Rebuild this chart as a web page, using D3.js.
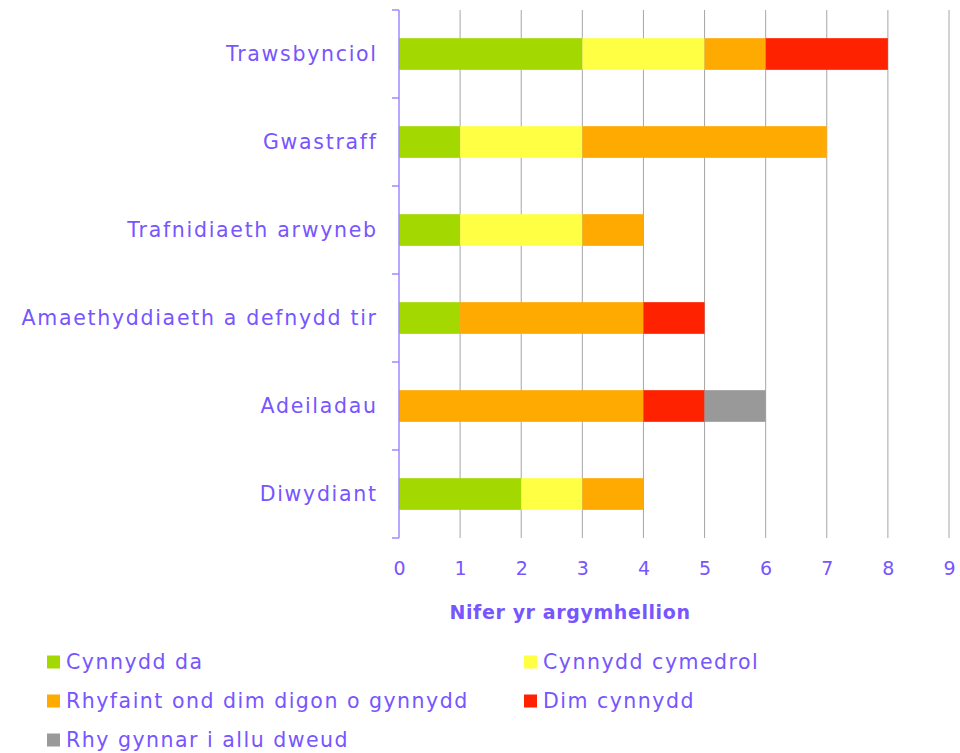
<!DOCTYPE html>
<html lang="cy">
  <head>
    <meta charset="UTF-8" />
    <title>Nifer yr argymhellion</title>
    <script src="https://d3js.org/d3.v7.min.js"></script>
    <style>
      body { margin: 0; background: #fff; }
      svg text { font-family: "DejaVu Sans", sans-serif; fill: #7755ff; }
    </style>
  </head>
  <body>
    <div id="chart"></div>
    <script>
      const categories = [
        "Trawsbynciol",
        "Gwastraff",
        "Trafnidiaeth arwyneb",
        "Amaethyddiaeth a defnydd tir",
        "Adeiladau",
        "Diwydiant"
      ];
      const seriesNames = [
        "Cynnydd da",
        "Cynnydd cymedrol",
        "Rhyfaint ond dim digon o gynnydd",
        "Dim cynnydd",
        "Rhy gynnar i allu dweud"
      ];
      const seriesColors = ["#a3d900", "#ffff44", "#ffaa00", "#ff2200", "#999999"];
      // one array per series, in category order
      const cynnyddDa = [3, 1, 1, 1, 0, 2];
      const cynnyddCymedrol = [2, 2, 2, 0, 0, 1];
      const rhyfaint = [1, 4, 1, 3, 4, 1];
      const dimCynnydd = [2, 0, 0, 1, 1, 0];
      const rhyGynnar = [0, 0, 0, 0, 1, 0];
      const xTicks = [0, 1, 2, 3, 4, 5, 6, 7, 8, 9];
      const xTitle = "Nifer yr argymhellion";

      const seriesValues = [cynnyddDa, cynnyddCymedrol, rhyfaint, dimCynnydd, rhyGynnar];
      const keys = seriesNames;
      const table = categories.map((c, i) => {
        const row = { category: c };
        keys.forEach((k, j) => (row[k] = seriesValues[j][i]));
        return row;
      });

      const width = 960;
      const height = 753;
      const margin = { left: 399, top: 10, right: 11, plotBottom: 538 };

      const svg = d3
        .select("#chart")
        .append("svg")
        .attr("width", width)
        .attr("height", height);

      const x = d3
        .scaleLinear()
        .domain([0, 9])
        .range([margin.left, width - margin.right]);

      const y = d3
        .scaleBand()
        .domain(categories)
        .range([margin.top, margin.plotBottom])
        .paddingInner(0.64)
        .paddingOuter(0.32);

      // gridlines
      svg
        .append("g")
        .selectAll("line")
        .data(xTicks.slice(1))
        .enter()
        .append("line")
        .attr("x1", (d) => x(d))
        .attr("x2", (d) => x(d))
        .attr("y1", margin.top)
        .attr("y2", margin.plotBottom)
        .attr("stroke", "#a6a6a6")
        .attr("stroke-width", 1);

      // stacked bars
      const stack = d3.stack().keys(keys)(table);
      svg
        .append("g")
        .selectAll("g")
        .data(stack)
        .enter()
        .append("g")
        .attr("fill", (d, i) => seriesColors[i])
        .selectAll("rect")
        .data((d) => d.filter((p) => p[1] > p[0]))
        .enter()
        .append("rect")
        .attr("x", (d) => x(d[0]))
        .attr("width", (d) => x(d[1]) - x(d[0]))
        .attr("y", (d) => y(d.data.category))
        .attr("height", y.bandwidth());

      // x axis labels
      const xAxis = d3.axisBottom(x).tickValues(xTicks).tickSize(0).tickPadding(0);
      const gx = svg
        .append("g")
        .attr("transform", `translate(0,${margin.plotBottom + 30})`)
        .call(xAxis);
      gx.select(".domain").remove();
      gx.selectAll("text")
        .attr("dy", "0.35em")
        .style("font-family", "DejaVu Sans, sans-serif")
        .style("font-size", "19px")
        .style("fill", "#7755ff");

      // y axis with category separators
      const boundaries = d3.range(categories.length + 1).map(
        (i) => margin.top + (i * (margin.plotBottom - margin.top)) / categories.length
      );
      svg
        .append("line")
        .attr("x1", margin.left)
        .attr("x2", margin.left)
        .attr("y1", margin.top)
        .attr("y2", margin.plotBottom)
        .attr("stroke", "#a088ff")
        .attr("stroke-width", 1.5);
      svg
        .append("g")
        .selectAll("line")
        .data(boundaries)
        .enter()
        .append("line")
        .attr("x1", margin.left - 7)
        .attr("x2", margin.left)
        .attr("y1", (d) => d)
        .attr("y2", (d) => d)
        .attr("stroke", "#a088ff")
        .attr("stroke-width", 1.5);

      // letter-spacing leaves a trailing gap, so anchor a little further right
      svg
        .append("g")
        .selectAll("text")
        .data(categories)
        .enter()
        .append("text")
        .attr("x", 377.7)
        .attr("y", (d) => y(d) + y.bandwidth() / 2)
        .attr("dy", "0.35em")
        .attr("text-anchor", "end")
        .style("font-size", "20.5px")
        .style("letter-spacing", "1.7px")
        .text((d) => d);

      svg
        .append("text")
        .attr("x", 570)
        .attr("y", 612)
        .attr("dy", "0.35em")
        .attr("text-anchor", "middle")
        .style("font-size", "19px")
        .style("font-weight", "bold")
        .style("letter-spacing", "0.6px")
        .text(xTitle);

      // legend
      const legendPos = [
        [47, 662],
        [524, 662],
        [47, 701],
        [524, 701],
        [47, 740]
      ];
      const legend = svg
        .append("g")
        .selectAll("g")
        .data(seriesNames)
        .enter()
        .append("g")
        .attr("transform", (d, i) => `translate(${legendPos[i][0]},${legendPos[i][1]})`);
      legend
        .append("rect")
        .attr("x", 0)
        .attr("y", -6.5)
        .attr("width", 13)
        .attr("height", 13)
        .attr("fill", (d, i) => seriesColors[i]);
      legend
        .append("text")
        .attr("x", 19)
        .attr("y", 0)
        .attr("dy", "0.35em")
        .style("font-size", "20.5px")
        .style("letter-spacing", "1.5px")
        .text((d) => d);
    </script>
  </body>
</html>
